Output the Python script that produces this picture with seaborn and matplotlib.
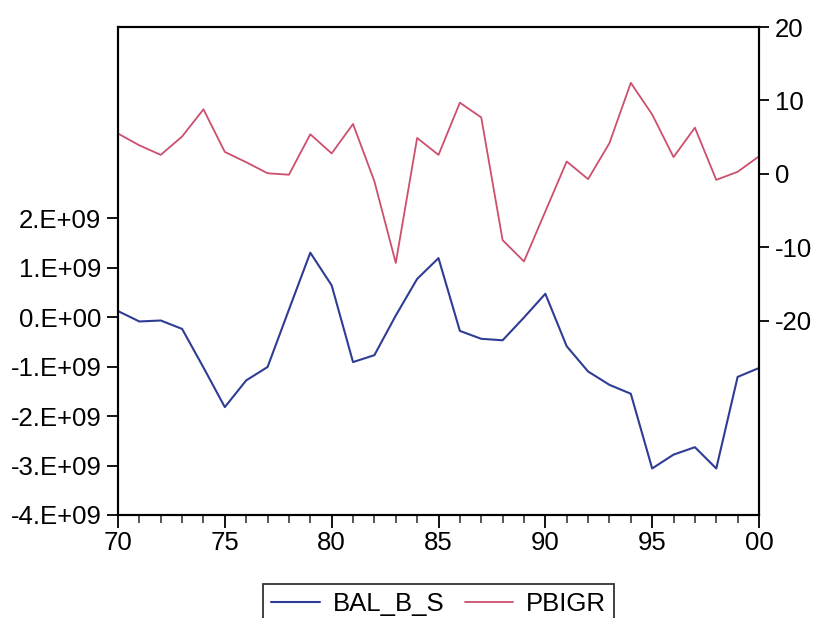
import numpy as np
import pandas as pd
import matplotlib
matplotlib.use("Agg")
import matplotlib.pyplot as plt
from matplotlib.ticker import MultipleLocator, FixedLocator, FixedFormatter
import seaborn as sns

# values (1970-2000)
years = list(range(1970, 2001))
bal_b_s = [0.12e9, -0.09e9, -0.07e9, -0.24e9, -1.02e9, -1.82e9, -1.28e9, -1.01e9,
           0.15e9, 1.30e9, 0.64e9, -0.91e9, -0.77e9, 0.03e9, 0.77e9, 1.19e9,
           -0.28e9, -0.44e9, -0.47e9, -0.01e9, 0.47e9, -0.59e9, -1.10e9, -1.37e9,
           -1.55e9, -3.06e9, -2.78e9, -2.63e9, -3.06e9, -1.21e9, -1.03e9]
pbigr = [5.5, 3.9, 2.6, 5.1, 8.8, 3.0, 1.6, 0.1, -0.1, 5.4, 2.8, 6.8, -1.0, -12.1,
         4.9, 2.6, 9.7, 7.7, -9.0, -11.9, -5.1, 1.7, -0.7, 4.2, 12.4, 8.1, 2.3,
         6.3, -0.8, 0.3, 2.4]

left_ticks = [-4e9, -3e9, -2e9, -1e9, 0, 1e9, 2e9]
left_labels = ["-4.E+09", "-3.E+09", "-2.E+09", "-1.E+09", "0.E+00", "1.E+09", "2.E+09"]
right_ticks = [-20, -10, 0, 10, 20]
x_ticks = [1970, 1975, 1980, 1985, 1990, 1995, 2000]
x_labels = ["70", "75", "80", "85", "90", "95", "00"]

df = pd.DataFrame({"year": years, "BAL_B_S": bal_b_s, "PBIGR": pbigr})

blue = "#2f3c94"
red = "#cc4f6c"

sns.set_theme(style="white")
plt.rcParams["font.family"] = ["Liberation Sans", "DejaVu Sans"]
plt.rcParams["font.size"] = 18
plt.rcParams["axes.unicode_minus"] = False
plt.rcParams["text.color"] = "black"

fig = plt.figure(figsize=(8.17, 6.18), dpi=100)
ax = fig.add_axes([118 / 817, 1 - 515 / 618, (759 - 118) / 817, (515 - 27) / 618])

sns.lineplot(data=df, x="year", y="BAL_B_S", ax=ax, color=blue, linewidth=1.5,
             legend=False)
ax2 = ax.twinx()
sns.lineplot(data=df, x="year", y="PBIGR", ax=ax2, color=red, linewidth=1.3,
             legend=False)

ax.set_xlim(1970, 2000)
ax.set_ylim(-4e9, 5.86e9)
ax2.set_ylim(-46.4, 20)

ax.set_xlabel("")
ax.set_ylabel("")
ax2.set_ylabel("")

ax.xaxis.set_major_locator(FixedLocator(x_ticks))
ax.xaxis.set_major_formatter(FixedFormatter(x_labels))
ax.xaxis.set_minor_locator(MultipleLocator(1))
ax.yaxis.set_major_locator(FixedLocator(left_ticks))
ax.yaxis.set_major_formatter(FixedFormatter(left_labels))
ax2.yaxis.set_major_locator(FixedLocator(right_ticks))

ax.tick_params(axis="x", which="major", direction="out", length=9.5, width=1.3,
               pad=2, labelsize=18.5, colors="black", bottom=True)
ax.tick_params(axis="x", which="minor", direction="out", length=6, width=1.1,
               bottom=True)
ax.tick_params(axis="y", direction="out", length=8, width=1.3, pad=4,
               labelsize=18.5, colors="black", left=True)
ax2.tick_params(axis="y", direction="out", length=7.5, width=1.3, pad=4,
                labelsize=18.5, colors="black", right=True)

for a in (ax, ax2):
    for sp in a.spines.values():
        sp.set_color("black")
        sp.set_linewidth(1.5)
        sp.set_visible(True)

handles = [ax.lines[0], ax2.lines[0]]
leg = fig.legend(handles, ["BAL_B_S", "PBIGR"], loc="upper center",
                 bbox_to_anchor=(438.5 / 817, 1 - 584 / 618), ncol=2,
                 fontsize=18.5, frameon=True, fancybox=False, shadow=False,
                 borderpad=0.3, handlelength=1.9, handletextpad=0.5,
                 columnspacing=0.8, borderaxespad=0, labelcolor="black")
leg.get_frame().set_edgecolor("black")
leg.get_frame().set_linewidth(1.3)
leg.get_frame().set_facecolor("white")

fig.savefig("out.png", dpi=100)
